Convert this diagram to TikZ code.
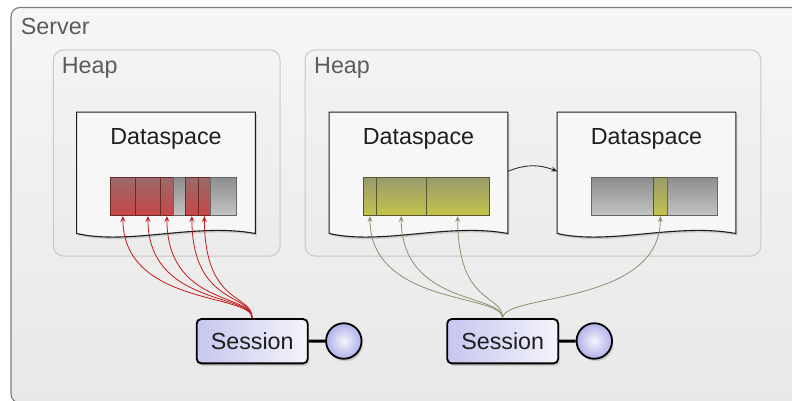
\documentclass[tikz,border=0pt]{standalone}
\usepackage{fontspec}
\setmainfont{Liberation Sans}
\usetikzlibrary{arrows.meta,shadows,calc}
\definecolor{srvTop}{HTML}{F6F6F6}
\definecolor{srvBot}{HTML}{E8E8E8}
\definecolor{srvLine}{HTML}{7C7C7C}
\definecolor{heapTop}{HTML}{F3F3F3}
\definecolor{heapBot}{HTML}{EBEBEB}
\definecolor{heapLine}{HTML}{C8C8C8}
\definecolor{lblGray}{HTML}{5C5C5C}
\definecolor{txtDark}{HTML}{1E1E1E}
\definecolor{dsFill}{HTML}{F7F7F7}
\definecolor{redTop}{HTML}{9A6A6A}
\definecolor{redBot}{HTML}{C84646}
\definecolor{redLine}{HTML}{6A2A2A}
\definecolor{grayTop}{HTML}{8E8E8E}
\definecolor{grayBot}{HTML}{C4C4C4}
\definecolor{grayLine}{HTML}{666666}
\definecolor{oliveTop}{HTML}{9A9A6C}
\definecolor{oliveBot}{HTML}{C4C44C}
\definecolor{oliveLine}{HTML}{55552E}
\definecolor{sessL}{HTML}{C6C6F0}
\definecolor{sessR}{HTML}{F4F4FA}
\definecolor{portIn}{HTML}{F4F4FA}
\definecolor{portOut}{HTML}{B0B0EA}
\definecolor{redArrow}{HTML}{C01A1A}
\definecolor{oliveArrow}{HTML}{8E8E6E}
\newcommand{\dsoutline}[1]{%
  \path[dsshape] (#1.north west) -- (#1.north east) -- (#1.south east)
    .. controls +(-60,-11) and +(53,12) .. (#1.south west) -- cycle;}
\begin{document}
\begin{tikzpicture}[x=1pt,y=-1pt,
  font=\fontsize{23.3}{28}\selectfont,
  server/.style={draw=srvLine, line width=1.1pt, rounded corners=9pt,
    top color=srvTop, bottom color=srvBot, inner sep=0pt},
  heap/.style={draw=heapLine, line width=1pt, rounded corners=10pt,
    top color=heapTop, bottom color=heapBot, inner sep=0pt},
  lbl/.style={text=lblGray, inner sep=0pt, anchor=base west},
  dsnode/.style={inner sep=0pt, minimum width=178.4pt, minimum height=121pt},
  dsshape/.style={fill=dsFill, draw=txtDark, line width=1.1pt,
    drop shadow={shadow xshift=1.5pt, shadow yshift=-2pt, opacity=0.3}},
  dslbl/.style={text=txtDark, inner sep=0pt, anchor=base},
  seg/.style={inner sep=0pt, minimum height=38pt, anchor=west, line width=0.8pt},
  redseg/.style={seg, draw=redLine, top color=redTop, bottom color=redBot},
  grayseg/.style={seg, draw=grayLine, top color=grayTop, bottom color=grayBot},
  oliveseg/.style={seg, draw=oliveLine, top color=oliveTop, bottom color=oliveBot},
  session/.style={draw=black, line width=1.8pt, rounded corners=4.5pt,
    left color=sessL, right color=sessR, text=txtDark, inner sep=0pt,
    minimum width=111pt, minimum height=44.3pt,
    drop shadow={shadow xshift=1.5pt, shadow yshift=-2.5pt, opacity=0.3}},
  port/.style={circle, draw=black, line width=1.8pt, minimum size=35.5pt,
    inner sep=0pt, inner color=portIn, outer color=portOut,
    drop shadow={shadow xshift=1.5pt, shadow yshift=-2.5pt, opacity=0.3}},
  redarrow/.style={draw=redArrow, line width=0.8pt,
    -{Stealth[length=6pt, width=5pt, inset=2.5pt]}},
  olivearrow/.style={draw=oliveArrow, line width=0.8pt,
    -{Stealth[length=6pt, width=5pt, inset=2.5pt]}},
  link/.style={draw=txtDark, line width=0.8pt,
    -{Stealth[length=6pt, width=5pt, inset=2.5pt]}}
]
\useasboundingbox (0,0) rectangle (792,401);
\clip (0,0) rectangle (792,401);
\fill[white] (0,0) rectangle (792,401);
% server and heaps
\node[server, minimum width=790pt, minimum height=395.5pt] (srv) at (406,205.25) {};
\node[lbl] (srvl) at (20.7,35) {Server};
\node[heap, minimum width=226.7pt, minimum height=206pt] (heap1) at (166.7,153) {};
\node[lbl] (heap1l) at (61.7,74) {Heap};
\node[heap, minimum width=455.7pt, minimum height=206pt] (heap2) at (532.9,153) {};
\node[lbl] (heap2l) at (314,74) {Heap};
% dataspaces
\node[dsnode] (ds1) at (166,172.8) {};
\node[dsnode] (ds2) at (418.5,172.8) {};
\node[dsnode] (ds3) at (646.5,172.8) {};
\dsoutline{ds1}
\dsoutline{ds2}
\dsoutline{ds3}
\node[dslbl] (ds1l) at (166,144) {Dataspace};
\node[dslbl] (ds2l) at (418.5,144) {Dataspace};
\node[dslbl] (ds3l) at (646.5,144) {Dataspace};
% segments dataspace 1
\node[redseg, minimum width=25pt] (r1) at (110,196.7) {};
\node[redseg, minimum width=25pt] (r2) at (135,196.7) {};
\node[redseg, minimum width=13pt] (r3) at (160,196.7) {};
\node[grayseg, minimum width=12pt] (g1) at (173,196.7) {};
\node[redseg, minimum width=13pt] (r4) at (185,196.7) {};
\node[redseg, minimum width=12pt] (r5) at (198,196.7) {};
\node[grayseg, minimum width=26pt] (g2) at (210,196.7) {};
% segments dataspace 2
\node[oliveseg, minimum width=12.5pt] (o1) at (363.3,196.7) {};
\node[oliveseg, minimum width=50pt] (o2) at (375.8,196.7) {};
\node[oliveseg, minimum width=63pt] (o3) at (425.8,196.7) {};
% segments dataspace 3
\node[grayseg, minimum width=62pt] (g3) at (591.3,196.7) {};
\node[oliveseg, minimum width=13.4pt] (o4) at (653.3,196.7) {};
\node[grayseg, minimum width=50pt] (g4) at (666.7,196.7) {};
% link between dataspaces
\draw[link] ([yshift=1.5pt]ds2.east) to[bend left=22] ([yshift=1.5pt]ds3.west);
% sessions
\node[session] (s1) at (252.2,341.2) {Session};
\node[session] (s2) at (502.7,341.2) {Session};
\node[port] (p1) at (343.8,341) {};
\node[port] (p2) at (594.3,341) {};
\draw[line width=3pt] (s1.east) -- (p1.west);
\draw[line width=3pt] (s2.east) -- (p2.west);
% references
\foreach \t in {r1,r2,r3,r4,r5}
  \draw[redarrow] (s1.north) .. controls +(0,-25) and +(0,90) .. (\t.south);
\foreach \t in {o1,o2,o3,o4}
  \draw[olivearrow] (s2.north) .. controls +(0,-25) and +(0,90) .. (\t.south);
\end{tikzpicture}
\end{document}
